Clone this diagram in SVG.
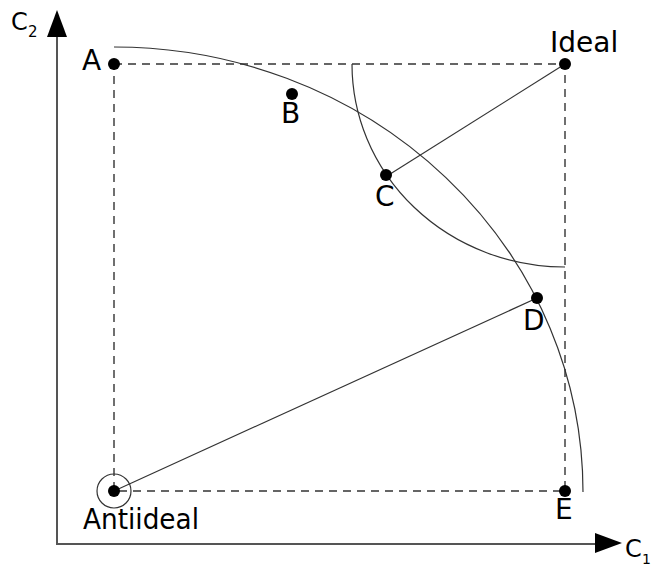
<svg xmlns="http://www.w3.org/2000/svg" width="653" height="566" viewBox="0 0 653 566">
<style>
.lbl{font-family:"DejaVu Sans","Liberation Sans",sans-serif;font-size:28px;fill:#000}
.ax{font-family:"DejaVu Sans","Liberation Sans",sans-serif;fill:#000}
.dash{stroke:#333;stroke-width:1.4;fill:none;stroke-dasharray:8 6}
.thin{stroke:#333;stroke-width:1.2;fill:none}
.dot{fill:#000}
</style>
<rect width="653" height="566" fill="#fff"/>
<g id="axes">
<line x1="57" y1="36" x2="57" y2="544" stroke="#555" stroke-width="2"/>
<line x1="56" y1="544" x2="596" y2="544" stroke="#555" stroke-width="2"/>
<polygon points="57,10 47,37 67,37" fill="#000"/>
<polygon points="622,543 595,533 595,553" fill="#000"/>
<text class="ax" x="11" y="30" font-size="24">C</text>
<text class="ax" x="28" y="37" font-size="15">2</text>
<text class="ax" x="625" y="557" font-size="24">C</text>
<text class="ax" x="642" y="564" font-size="14">1</text>
</g>
<g id="connectors">
<path class="dash" d="M114,64 H565 V491 H114 Z"/>
<line class="thin" x1="565" y1="64" x2="387" y2="176"/>
<line class="thin" x1="114" y1="491" x2="537" y2="298"/>
<path class="thin" d="M114,47 A469,445 0 0 1 583,492"/>
<path class="thin" d="M352,64 A213,203 0 0 0 565,267"/>
</g>
<g id="A"><circle class="dot" cx="114" cy="64" r="6"/><text class="lbl" x="82" y="70">A</text></g>
<g id="Ideal"><circle class="dot" cx="565" cy="64" r="6"/><text class="lbl" x="550" y="52">Ideal</text></g>
<g id="B"><circle class="dot" cx="292" cy="94" r="6"/><text class="lbl" x="281" y="123">B</text></g>
<g id="C"><circle class="dot" cx="386" cy="175" r="6"/><text class="lbl" x="375" y="206">C</text></g>
<g id="D"><circle class="dot" cx="537" cy="298" r="6"/><text class="lbl" x="523" y="330">D</text></g>
<g id="E"><circle class="dot" cx="565" cy="491" r="6"/><text class="lbl" x="555" y="519">E</text></g>
<g id="Antiideal"><circle class="dot" cx="114" cy="491" r="6"/><circle cx="114" cy="491" r="17" fill="none" stroke="#333" stroke-width="1.2"/><text class="lbl" x="83" y="529" textLength="116" lengthAdjust="spacingAndGlyphs">Antiideal</text></g>
</svg>
